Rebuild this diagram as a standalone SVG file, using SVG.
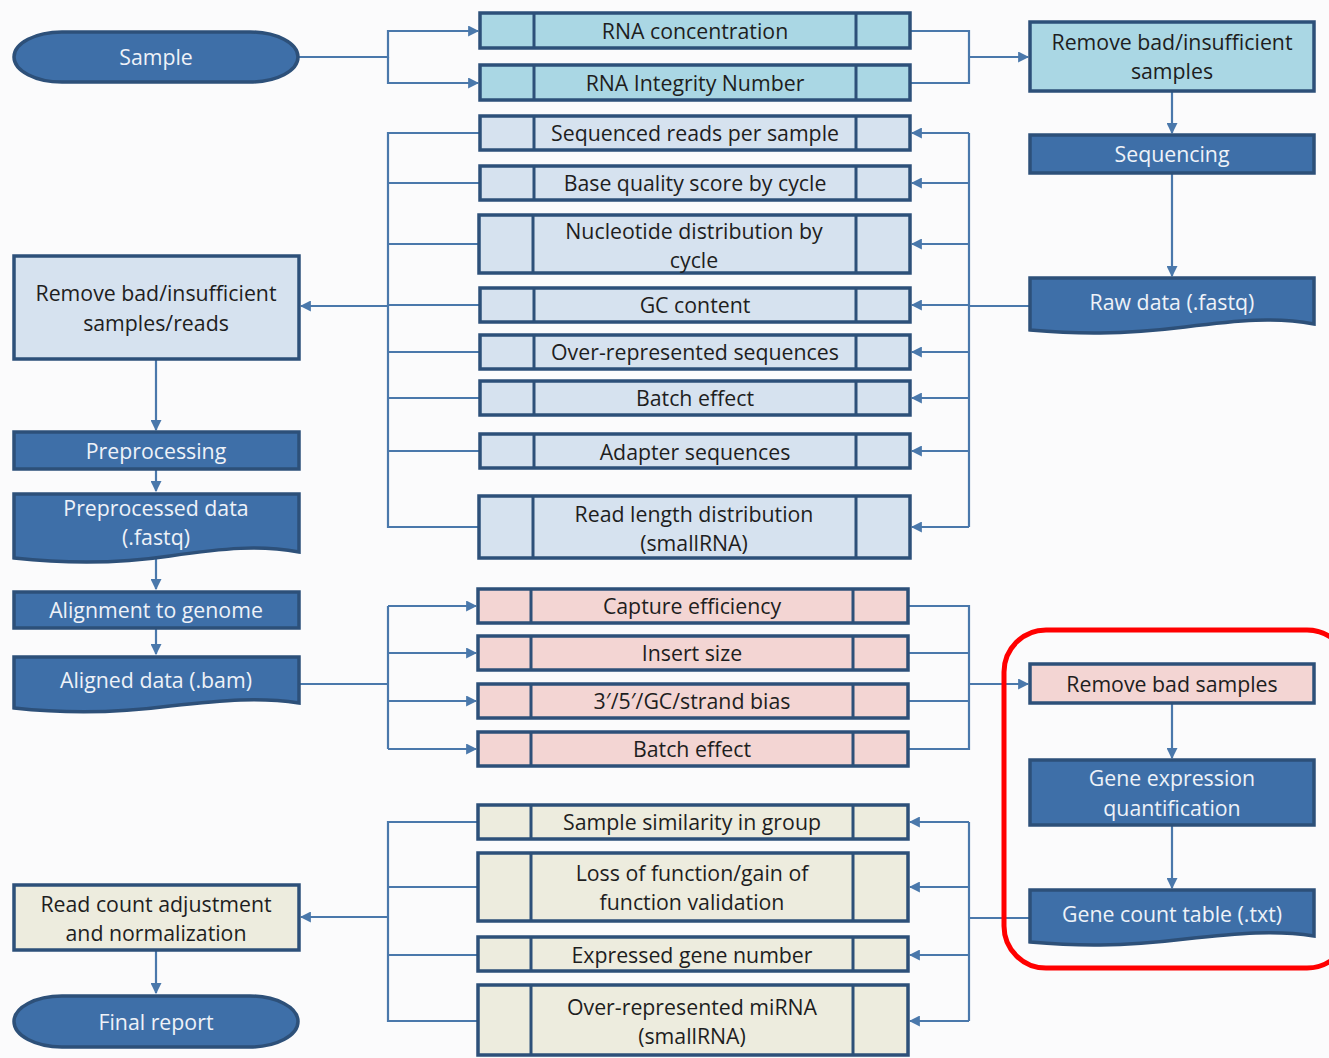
<svg xmlns="http://www.w3.org/2000/svg" width="1329" height="1058" viewBox="0 0 1329 1058">
  <style>
    .box { stroke: #2d5079; stroke-width: 3.5; }
    .dk { fill: #3e6fa8; }
    .cy { fill: #aad7e4; }
    .gb { fill: #d6e2ef; }
    .pk { fill: #f3d5d3; }
    .bg { fill: #edecde; }
    .div { stroke: #2d5079; stroke-width: 3; fill: none; }
    .t { font-family: "Open Sans", "Noto Sans", "Liberation Sans", sans-serif; font-size: 21.3px; text-anchor: middle; fill: #1e1e1e; }
    .w { fill: #eef2f8; }
    .c { fill: none; stroke: #4a78ab; stroke-width: 2.2; }
  </style>
  <defs>
    <marker id="ah" viewBox="0 0 10 10" refX="9" refY="5" markerWidth="5" markerHeight="5" orient="auto" markerUnits="strokeWidth">
      <path d="M0,0 L10,5 L0,10 Z" fill="#4a78ab"/>
    </marker>
  </defs>
  <rect width="1329" height="1058" fill="#fbfbfc"/>

  <!-- connectors -->
  <g id="connectors" class="c">
    <!-- sample to RNA checks -->
    <path d="M299,57 H388 V31 H478" marker-end="url(#ah)"/>
    <path d="M388,57 V83 H478" marker-end="url(#ah)"/>
    <path d="M911,31 H969 V83 H911"/>
    <path d="M969,57 H1028" marker-end="url(#ah)"/>
    <!-- right column flow -->
    <path d="M1172,91 V133" marker-end="url(#ah)"/>
    <path d="M1172,173 V276" marker-end="url(#ah)"/>
    <!-- raw data to read QC -->
    <path d="M1029,306 H969"/>
    <path d="M969,133 V527"/>
    <path d="M969,133 H912" marker-end="url(#ah)"/>
    <path d="M969,183 H912" marker-end="url(#ah)"/>
    <path d="M969,244 H912" marker-end="url(#ah)"/>
    <path d="M969,305 H912" marker-end="url(#ah)"/>
    <path d="M969,352 H912" marker-end="url(#ah)"/>
    <path d="M969,398 H912" marker-end="url(#ah)"/>
    <path d="M969,451 H912" marker-end="url(#ah)"/>
    <path d="M969,527 H912" marker-end="url(#ah)"/>
    <path d="M480,133 H388 V527 H480"/>
    <path d="M480,183 H388"/>
    <path d="M480,244 H388"/>
    <path d="M480,305 H388"/>
    <path d="M480,352 H388"/>
    <path d="M480,398 H388"/>
    <path d="M480,451 H388"/>
    <path d="M388,306 H301" marker-end="url(#ah)"/>
    <!-- left column flow -->
    <path d="M156,360 V430" marker-end="url(#ah)"/>
    <path d="M156,469 V491" marker-end="url(#ah)"/>
    <path d="M156,559 V589" marker-end="url(#ah)"/>
    <path d="M156,628 V654" marker-end="url(#ah)"/>
    <!-- aligned data to mapping QC -->
    <path d="M299,684 H388"/>
    <path d="M388,606 V749"/>
    <path d="M388,606 H476" marker-end="url(#ah)"/>
    <path d="M388,653 H476" marker-end="url(#ah)"/>
    <path d="M388,701 H476" marker-end="url(#ah)"/>
    <path d="M388,749 H476" marker-end="url(#ah)"/>
    <path d="M908,606 H969 V749 H908"/>
    <path d="M908,653 H969"/>
    <path d="M908,701 H969"/>
    <path d="M969,684 H1028" marker-end="url(#ah)"/>
    <!-- quantification flow -->
    <path d="M1172,703 V758" marker-end="url(#ah)"/>
    <path d="M1172,825 V888" marker-end="url(#ah)"/>
    <!-- gene count table to expression QC -->
    <path d="M1030,918 H969"/>
    <path d="M969,822 V1021"/>
    <path d="M969,822 H910" marker-end="url(#ah)"/>
    <path d="M969,887 H910" marker-end="url(#ah)"/>
    <path d="M969,955 H910" marker-end="url(#ah)"/>
    <path d="M969,1021 H910" marker-end="url(#ah)"/>
    <path d="M478,822 H388 V1021 H478"/>
    <path d="M478,887 H388"/>
    <path d="M478,955 H388"/>
    <path d="M388,917 H301" marker-end="url(#ah)"/>
    <path d="M156,950 V993" marker-end="url(#ah)"/>
  </g>

  <!-- left column -->
  <g id="sample">
    <rect class="box dk" x="14" y="32" width="284" height="50" rx="48" ry="25"/>
    <text class="t w" x="156" y="65">Sample</text>
  </g>
  <g id="remove-reads">
    <rect class="box gb" x="14" y="256" width="285" height="103"/>
    <text class="t" x="156" y="301">Remove bad/insufficient</text>
    <text class="t" x="156" y="331">samples/reads</text>
  </g>
  <g id="preprocessing">
    <rect class="box dk" x="14" y="432" width="285" height="37"/>
    <text class="t w" x="156" y="459">Preprocessing</text>
  </g>
  <g id="preprocessed-data">
    <path class="box dk" d="M14,494 H299 V552 C260,545 225,548 170,556 C110,565 60,563 14,558 Z"/>
    <text class="t w" x="156" y="516">Preprocessed data</text>
    <text class="t w" x="156" y="545">(.fastq)</text>
  </g>
  <g id="alignment">
    <rect class="box dk" x="14" y="592" width="285" height="36"/>
    <text class="t w" x="156" y="618">Alignment to genome</text>
  </g>
  <g id="aligned-data">
    <path class="box dk" d="M14,657 H299 V703 C260,697 225,700 170,706 C110,714 60,713 14,708 Z"/>
    <text class="t w" x="156" y="688">Aligned data (.bam)</text>
  </g>
  <g id="read-count-adjustment">
    <rect class="box bg" x="14" y="885" width="285" height="65"/>
    <text class="t" x="156" y="912">Read count adjustment</text>
    <text class="t" x="156" y="941">and normalization</text>
  </g>
  <g id="final-report">
    <rect class="box dk" x="14" y="996" width="284" height="51" rx="48" ry="25.5"/>
    <text class="t w" x="156" y="1030">Final report</text>
  </g>

  <!-- sample QC -->
  <g id="rna-concentration">
    <rect class="box cy" x="480" y="13" width="430" height="35"/>
    <path class="div" d="M534,13 V48 M856,13 V48"/>
    <text class="t" x="695" y="39">RNA concentration</text>
  </g>
  <g id="rna-integrity">
    <rect class="box cy" x="480" y="65" width="430" height="35"/>
    <path class="div" d="M534,65 V100 M856,65 V100"/>
    <text class="t" x="695" y="91">RNA Integrity Number</text>
  </g>

  <!-- read QC -->
  <g id="reads-per-sample">
    <rect class="box gb" x="480" y="116" width="430" height="34"/>
    <path class="div" d="M534,116 V150 M856,116 V150"/>
    <text class="t" x="695" y="141">Sequenced reads per sample</text>
  </g>
  <g id="base-quality">
    <rect class="box gb" x="480" y="166" width="430" height="34"/>
    <path class="div" d="M534,166 V200 M856,166 V200"/>
    <text class="t" x="695" y="191">Base quality score by cycle</text>
  </g>
  <g id="nucleotide-distribution">
    <rect class="box gb" x="479" y="215" width="431" height="58"/>
    <path class="div" d="M533,215 V273 M856,215 V273"/>
    <text class="t" x="694" y="239">Nucleotide distribution by</text>
    <text class="t" x="694" y="268">cycle</text>
  </g>
  <g id="gc-content">
    <rect class="box gb" x="480" y="288" width="430" height="34"/>
    <path class="div" d="M534,288 V322 M856,288 V322"/>
    <text class="t" x="695" y="313">GC content</text>
  </g>
  <g id="over-represented-sequences">
    <rect class="box gb" x="480" y="335" width="430" height="34"/>
    <path class="div" d="M534,335 V369 M856,335 V369"/>
    <text class="t" x="695" y="360">Over-represented sequences</text>
  </g>
  <g id="batch-effect-reads">
    <rect class="box gb" x="480" y="381" width="430" height="34"/>
    <path class="div" d="M534,381 V415 M856,381 V415"/>
    <text class="t" x="695" y="406">Batch effect</text>
  </g>
  <g id="adapter-sequences">
    <rect class="box gb" x="480" y="434" width="430" height="34"/>
    <path class="div" d="M534,434 V468 M856,434 V468"/>
    <text class="t" x="695" y="460">Adapter sequences</text>
  </g>
  <g id="read-length">
    <rect class="box gb" x="479" y="496" width="431" height="62"/>
    <path class="div" d="M533,496 V558 M856,496 V558"/>
    <text class="t" x="694" y="522">Read length distribution</text>
    <text class="t" x="694" y="551">(smallRNA)</text>
  </g>

  <!-- mapping QC -->
  <g id="capture-efficiency">
    <rect class="box pk" x="478" y="589" width="430" height="34"/>
    <path class="div" d="M531,589 V623 M853,589 V623"/>
    <text class="t" x="692" y="614">Capture efficiency</text>
  </g>
  <g id="insert-size">
    <rect class="box pk" x="478" y="636" width="430" height="34"/>
    <path class="div" d="M531,636 V670 M853,636 V670"/>
    <text class="t" x="692" y="661">Insert size</text>
  </g>
  <g id="strand-bias">
    <rect class="box pk" x="478" y="684" width="430" height="34"/>
    <path class="div" d="M531,684 V718 M853,684 V718"/>
    <text class="t" x="692" y="709">3′/5′/GC/strand bias</text>
  </g>
  <g id="batch-effect-mapping">
    <rect class="box pk" x="478" y="732" width="430" height="34"/>
    <path class="div" d="M531,732 V766 M853,732 V766"/>
    <text class="t" x="692" y="757">Batch effect</text>
  </g>

  <!-- expression QC -->
  <g id="sample-similarity">
    <rect class="box bg" x="478" y="805" width="430" height="34"/>
    <path class="div" d="M531,805 V839 M853,805 V839"/>
    <text class="t" x="692" y="830">Sample similarity in group</text>
  </g>
  <g id="function-validation">
    <rect class="box bg" x="478" y="853" width="430" height="68"/>
    <path class="div" d="M531,853 V921 M853,853 V921"/>
    <text class="t" x="692" y="881">Loss of function/gain of</text>
    <text class="t" x="692" y="910">function validation</text>
  </g>
  <g id="expressed-gene-number">
    <rect class="box bg" x="478" y="937" width="430" height="34"/>
    <path class="div" d="M531,937 V971 M853,937 V971"/>
    <text class="t" x="692" y="963">Expressed gene number</text>
  </g>
  <g id="over-represented-mirna">
    <rect class="box bg" x="478" y="985" width="430" height="70"/>
    <path class="div" d="M531,985 V1055 M853,985 V1055"/>
    <text class="t" x="692" y="1015">Over-represented miRNA</text>
    <text class="t" x="692" y="1044">(smallRNA)</text>
  </g>

  <!-- right column -->
  <g id="remove-samples">
    <rect class="box cy" x="1030" y="22" width="284" height="69"/>
    <text class="t" x="1172" y="50">Remove bad/insufficient</text>
    <text class="t" x="1172" y="79">samples</text>
  </g>
  <g id="sequencing">
    <rect class="box dk" x="1030" y="135" width="284" height="38"/>
    <text class="t w" x="1172" y="162">Sequencing</text>
  </g>
  <g id="raw-data">
    <path class="box dk" d="M1030,278 H1314 V324 C1275,317 1240,320 1185,327 C1120,335 1075,334 1030,330 Z"/>
    <text class="t w" x="1172" y="310">Raw data (.fastq)</text>
  </g>
  <g id="remove-bad-samples">
    <rect class="box pk" x="1030" y="664" width="284" height="39"/>
    <text class="t" x="1172" y="692">Remove bad samples</text>
  </g>
  <g id="gene-expression-quantification">
    <rect class="box dk" x="1030" y="760" width="284" height="65"/>
    <text class="t w" x="1172" y="786">Gene expression</text>
    <text class="t w" x="1172" y="816">quantification</text>
  </g>
  <g id="gene-count-table">
    <path class="box dk" d="M1030,890 H1314 V936 C1275,930 1240,933 1185,939 C1120,947 1075,946 1030,942 Z"/>
    <text class="t w" x="1172" y="922">Gene count table (.txt)</text>
  </g>

  <!-- highlight frame -->
  <rect x="1004" y="630" width="345" height="338" rx="42" fill="none" stroke="#ff0000" stroke-width="5"/>
</svg>
